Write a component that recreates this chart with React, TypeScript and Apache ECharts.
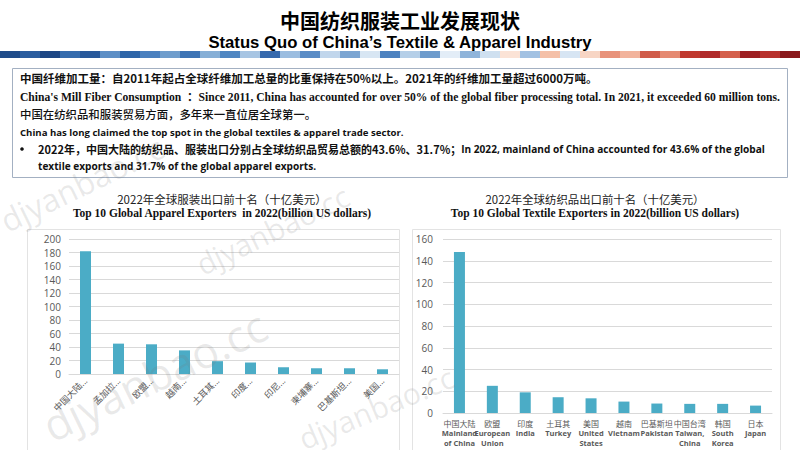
import React, { useEffect, useRef } from "react";
import * as echarts from "echarts";

// ---- data ----
const apparelLabels = ["中国大陆...", "孟加拉...", "欧盟...", "越南...", "土耳其...", "印度...", "印尼...", "柬埔寨...", "巴基斯坦...", "美国..."];
const apparelValues = [182, 45, 44, 35, 19, 17, 10, 8.5, 8.5, 7];
const apparelAxis = { min: 0, max: 200, interval: 20 };

const textileLabelsCn = ["中国大陆", "欧盟", "印度", "土耳其", "美国", "越南", "巴基斯坦", "中国台湾", "韩国", "日本"];
const textileLabelsEn = ["Mainland\nof China", "European\nUnion", "India", "Turkey", "United\nStates", "Vietnam", "Pakistan", "Taiwan,\nChina", "South\nKorea", "Japan"];
const textileValues = [148, 25, 19, 14.5, 13.5, 10.5, 8.7, 8.4, 8.4, 6.8];
const textileAxis = { min: 0, max: 160, interval: 20 };

const titleCn = "中国纺织服装工业发展现状";
const titleEn = "Status Quo of China’s Textile & Apparel Industry";
const chart1TitleCn = "2022年全球服装出口前十名（十亿美元）";
const chart1TitleEn = "Top 10 Global Apparel Exporters  in 2022(billion US dollars)";
const chart2TitleCn = "2022年全球纺织品出口前十名（十亿美元）";
const chart2TitleEn = "Top 10 Global Textile Exporters in 2022(billion US dollars)";

const note1 = "中国纤维加工量：自2011年起占全球纤维加工总量的比重保持在50%以上。2021年的纤维加工量超过6000万吨。";
const note2 = "China's Mill Fiber Consumption  ：Since 2011, China has accounted for over 50% of the global fiber processing total. In 2021, it exceeded 60 million tons.";
const note3 = "中国在纺织品和服装贸易方面，多年来一直位居全球第一。";
const note4 = "China has long claimed the top spot in the global textiles & apparel trade sector.";
const note5Cn = "2022年，中国大陆的纺织品、服装出口分别占全球纺织品贸易总额的43.6%、31.7%；";
const note5En = "In 2022, mainland of China accounted for 43.6% of the global";
const note6 = "textile exports and 31.7% of the global apparel exports.";

const watermark = "djyanbao.cc";

const stripeColors = [
  "#1f4c8a", "#2a5d9f", "#1c4684", "#356cae", "#28599b", "#5d8fc6", "#2e65a8", "#4a80bf", "#6f9dcc", "#3d74b5",
  "#86afd6", "#4f86c2", "#a7c5e3", "#3669ad", "#9bbde0", "#5a8cc6", "#c1d6ec", "#7ba5d2", "#d8e6f3", "#4d82c0",
  "#b5cfe8", "#6d9bcc", "#e3edf7", "#8fb4da", "#cfe0f0", "#fbe3d6", "#a2c1e2", "#f4c0a8", "#d7e5f3", "#f7d5c4",
  "#e8927a", "#f2b39c", "#d05c4a", "#e58a72", "#c0392f", "#b02a2a", "#d4604c", "#9e1f22", "#b8322e", "#8a1a1d",
];

const BAR = "#4bacc6";
const AXIS_TXT = "#595959";
const GRID = "#d9d9d9";
const CJK = "'Noto Sans CJK SC', sans-serif";
const SANS = "'Open Sans', 'Noto Sans CJK SC', sans-serif";
const SERIF = "'Liberation Serif', 'Noto Sans CJK SC', serif";

export default function App() {
  const ref = useRef<HTMLDivElement>(null);

  useEffect(() => {
    document.body.style.margin = "0";
    if (!ref.current) return;
    const chart = echarts.init(ref.current, undefined, { renderer: "svg" });

    const stripes = stripeColors.map((c, i) => ({
      type: "rect",
      shape: { x: i * 20, y: 51, width: 20, height: 7 },
      style: { fill: c },
      silent: true,
    }));

    const txt = (x: number, y: number, text: string, font: any, extra: any = {}) => ({
      type: "text",
      x,
      y,
      style: { text, fill: "#111", verticalAlign: "middle", ...font, ...extra },
    });

    const wm = (x: number, y: number, size: number, rot: number) => ({
      type: "text",
      x,
      y,
      rotation: rot,
      z: 100,
      silent: true,
      style: { text: watermark, fill: "rgba(120,120,120,0.16)", fontSize: size, fontFamily: "'Open Sans', sans-serif", verticalAlign: "middle" },
    });

    const option: any = {
      animation: false,
      backgroundColor: "#fff",
      graphic: [
        ...stripes,
        txt(400, 20, titleCn, { fontSize: 20, fontWeight: "bold", fontFamily: CJK, fill: "#000", align: "center" }),
        txt(400, 42, titleEn, { fontSize: 16.7, fontWeight: "bold", fontFamily: "'Liberation Sans', Arial, sans-serif", fill: "#000", align: "center" }),
        { type: "rect", shape: { x: 12.5, y: 68.5, width: 775, height: 109 }, style: { fill: "#fff", stroke: "#a3b0c2", lineWidth: 1 } },
        txt(20, 78, note1, { fontFamily: CJK, fontSize: 11.5, fontWeight: "bold" }),
        txt(20, 97, note2, { fontFamily: SERIF, fontSize: 11.6, fontWeight: "bold" }),
        txt(20, 114, note3, { fontFamily: CJK, fontSize: 11.4, fontWeight: 500 }),
        txt(20, 132, note4, { fontFamily: SANS, fontSize: 9.6, fontWeight: "bold" }),
        {
          type: "text",
          x: 38,
          y: 149,
          style: {
            text: `{c|${note5Cn}}{e|${note5En}}`,
            verticalAlign: "middle",
            fill: "#111",
            rich: {
              c: { fontFamily: CJK, fontSize: 11, fontWeight: "bold", fill: "#111" },
              e: { fontFamily: SANS, fontSize: 10.1, fontWeight: "bold", fill: "#111" },
            },
          },
        },
        txt(38, 166, note6, { fontFamily: SANS, fontSize: 10.1, fontWeight: "bold" }),
        { type: "circle", shape: { cx: 22, cy: 149, r: 1.8 }, style: { fill: "#111" } },
        txt(222, 199, chart1TitleCn, { fontSize: 11.5, fontFamily: CJK, fill: "#222", align: "center" }),
        txt(222, 213, chart1TitleEn, { fontSize: 11.5, fontWeight: "bold", fontFamily: SERIF, fill: "#111", align: "center" }),
        txt(595, 199, chart2TitleCn, { fontSize: 11.4, fontFamily: CJK, fill: "#222", align: "center" }),
        txt(595, 213, chart2TitleEn, { fontSize: 11.5, fontWeight: "bold", fontFamily: SERIF, fill: "#111", align: "center" }),
        { type: "rect", shape: { x: 27.5, y: 229.5, width: 372, height: 230 }, style: { fill: "none", stroke: "#e3e3e3", lineWidth: 1 } },
        { type: "rect", shape: { x: 412.5, y: 229.5, width: 368, height: 230 }, style: { fill: "none", stroke: "#e3e3e3", lineWidth: 1 } },
        wm(2, 222, 32, 0.45),
        wm(198, 266, 30, 0.45),
        wm(45, 428, 44, 0.45),
        wm(300, 440, 30, 0.4),
      ],
      grid: [
        { left: 69, right: 401, top: 239, bottom: 76 },
        { left: 443, right: 28, top: 239, bottom: 37 },
      ],
      xAxis: [
        {
          type: "category",
          gridIndex: 0,
          data: apparelLabels,
          axisLine: { show: true, lineStyle: { color: GRID } },
          axisTick: { show: false },
          axisLabel: { rotate: 45, color: AXIS_TXT, fontSize: 9, fontFamily: SANS, margin: 5, interval: 0 },
        },
        {
          type: "category",
          gridIndex: 1,
          data: textileLabelsCn,
          axisLine: { show: true, lineStyle: { color: GRID } },
          axisTick: { show: false },
          axisLabel: {
            interval: 0,
            margin: 6,
            color: AXIS_TXT,
            fontFamily: SANS,
            fontSize: 8,
            lineHeight: 9.5,
            formatter: (v: string, i: number) => `{cn|${v}}\n{en|${textileLabelsEn[i]}}`,
            rich: {
              cn: { fontSize: 8, lineHeight: 9.5, color: AXIS_TXT, fontFamily: CJK },
              en: { fontSize: 7.5, lineHeight: 9.5, color: AXIS_TXT, fontWeight: "bold", fontFamily: SANS },
            },
          },
        },
      ],
      yAxis: [
        {
          type: "value",
          gridIndex: 0,
          ...apparelAxis,
          axisLine: { show: false },
          axisTick: { show: false },
          splitLine: { lineStyle: { color: GRID } },
          axisLabel: { color: AXIS_TXT, fontSize: 10, fontFamily: SANS, margin: 8 },
        },
        {
          type: "value",
          gridIndex: 1,
          ...textileAxis,
          axisLine: { show: false },
          axisTick: { show: false },
          splitLine: { lineStyle: { color: GRID } },
          axisLabel: { color: AXIS_TXT, fontSize: 10, fontFamily: SANS, margin: 10 },
        },
      ],
      series: [
        { type: "bar", xAxisIndex: 0, yAxisIndex: 0, data: apparelValues, barWidth: 11, itemStyle: { color: BAR } },
        { type: "bar", xAxisIndex: 1, yAxisIndex: 1, data: textileValues, barWidth: 11, itemStyle: { color: BAR } },
      ],
    };
    chart.setOption(option);
    return () => chart.dispose();
  }, []);

  return <div ref={ref} style={{ position: "absolute", left: 0, top: 0, width: 800, height: 450 }} />;
}
